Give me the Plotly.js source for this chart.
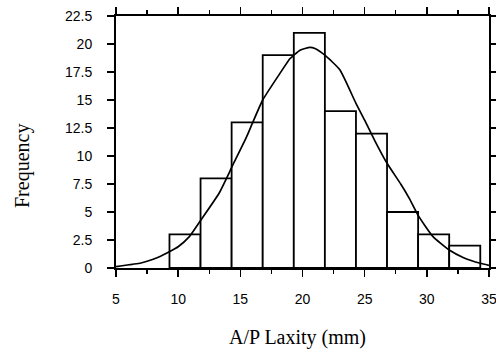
<!DOCTYPE html>
<html>
<head>
<meta charset="utf-8">
<script src="https://cdn.plot.ly/plotly-3.0.1.min.js"></script>
<style>html,body{margin:0;padding:0;background:#fff;}#chart{width:496px;height:351px;}</style>
</head>
<body>
<div id="chart"></div>
<script>
// Histogram bins (centers, mm) and counts
var binCenters = [10.55, 13.05, 15.55, 18.05, 20.55, 23.05, 25.55, 28.05, 30.55, 33.05];
var binCounts  = [3, 8, 13, 19, 21, 14, 12, 5, 3, 2];
var binWidth = 2.5;

// Fitted curve
var curveX = [5.0, 5.5, 6.3, 7.0, 7.5, 8.4, 9.4, 10.0, 10.9, 11.9, 13.3, 14.4, 15.5, 16.0, 16.8, 18.2, 19.0, 19.3, 19.8, 20.6, 21.0, 21.8, 23.0, 24.3, 25.0, 25.8, 26.8, 27.9, 28.6, 29.3, 30.5, 31.8, 33.0, 34.3, 35.0];
var curveY = [0.12, 0.2, 0.33, 0.45, 0.6, 0.96, 1.52, 1.9, 2.8, 4.4, 6.7, 9.2, 11.7, 13.0, 15.0, 17.4, 18.7, 19.0, 19.45, 19.7, 19.6, 19.0, 17.7, 14.7, 13.2, 11.4, 9.35, 7.5, 6.2, 4.7, 2.8, 1.6, 0.9, 0.42, 0.24];

var xTicks = [5, 10, 15, 20, 25, 30, 35];
var yTicks = [0, 2.5, 5, 7.5, 10, 12.5, 15, 17.5, 20, 22.5];
var yTickText = ['0', '2.5', '5', '7.5', '10', '12.5', '15', '17.5', '20', '22.5'];

var traces = [
  {
    type: 'bar',
    x: binCenters,
    y: binCounts,
    width: binWidth,
    marker: {color: '#ffffff', line: {color: '#000000', width: 1.8}},
    hoverinfo: 'none'
  },
  {
    type: 'scatter',
    mode: 'lines',
    x: curveX,
    y: curveY,
    line: {color: '#000000', width: 1.7, shape: 'spline', smoothing: 0.5},
    hoverinfo: 'none'
  }
];

var layout = {
  width: 496,
  height: 351,
  margin: {l: 116, r: 7, t: 16, b: 83},
  paper_bgcolor: '#ffffff',
  plot_bgcolor: '#ffffff',
  showlegend: false,
  bargap: 0,
  font: {family: 'Liberation Sans, Arial, sans-serif', color: '#000000', size: 14},
  xaxis: {
    range: [4.999, 35.001],
    tickvals: xTicks,
    ticktext: xTicks.map(String),
    ticks: 'outside',
    ticklen: 7,
    tickwidth: 1.5,
    tickcolor: '#000',
    showline: true,
    linewidth: 2,
    linecolor: '#000',
    mirror: 'ticks',
    showgrid: false,
    zeroline: false,
    ticklabelstandoff: 10,
    ticklabeloverflow: 'allow',
    tickfont: {size: 14},
    minor: {dtick: 2.5, tick0: 5, ticks: 'outside', ticklen: 4, tickwidth: 1.5, tickcolor: '#000', showgrid: false}
  },
  yaxis: {
    range: [0, 22.5],
    tickvals: yTicks,
    ticktext: yTickText,
    ticks: 'outside',
    ticklen: 7,
    tickwidth: 1.5,
    tickcolor: '#000',
    showline: true,
    linewidth: 2,
    linecolor: '#000',
    mirror: 'ticks',
    showgrid: false,
    zeroline: false,
    ticklabelstandoff: 12,
    tickfont: {size: 14}
  },
  annotations: [
    {
      text: 'A/P Laxity (mm)',
      xref: 'paper', yref: 'paper',
      x: (297 - 116) / (489 - 116), y: (268 - 337) / 252,
      xanchor: 'center', yanchor: 'middle',
      showarrow: false,
      font: {family: 'Liberation Serif, Times New Roman, serif', size: 20, color: '#000'}
    },
    {
      text: 'Frequency',
      xref: 'paper', yref: 'paper',
      x: (22 - 116) / (489 - 116), y: (268 - 166) / 252,
      xanchor: 'center', yanchor: 'middle',
      textangle: -90,
      showarrow: false,
      font: {family: 'Liberation Serif, Times New Roman, serif', size: 20, color: '#000'}
    }
  ]
};

Plotly.newPlot('chart', traces, layout, {staticPlot: true, displayModeBar: false});
</script>
</body>
</html>
